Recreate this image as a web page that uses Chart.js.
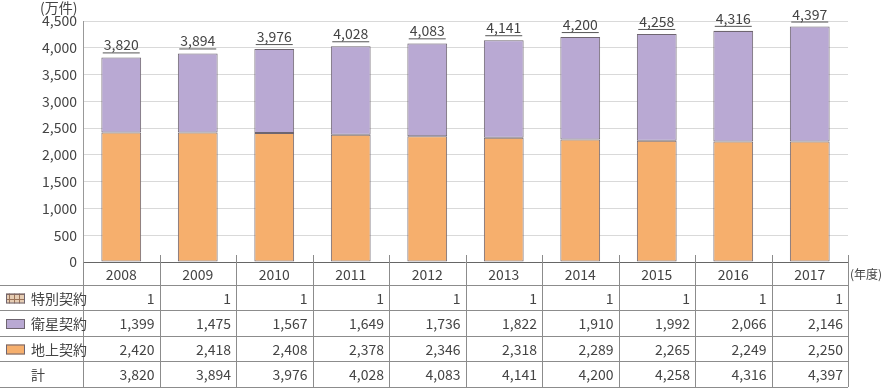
<!DOCTYPE html>
<html>
<head>
<meta charset="utf-8">
<script src="https://cdn.jsdelivr.net/npm/chart.js@4"></script>
<style>
  body { margin: 0; background: #fff; }
  #wrap { width: 883px; height: 391px; }
</style>
</head>
<body>
<div id="wrap"><canvas id="nhkChart" width="883" height="391"></canvas></div>
<script>
const years = ['2008', '2009', '2010', '2011', '2012', '2013', '2014', '2015', '2016', '2017'];
const tokubetsu = [1, 1, 1, 1, 1, 1, 1, 1, 1, 1];
const eisei = [1399, 1475, 1567, 1649, 1736, 1822, 1910, 1992, 2066, 2146];
const chijo = [2420, 2418, 2408, 2378, 2346, 2318, 2289, 2265, 2249, 2250];
const total = [3820, 3894, 3976, 4028, 4083, 4141, 4200, 4258, 4316, 4397];
const rowNames = ['特別契約', '衛星契約', '地上契約', '計'];

const FONT = '"Noto Sans CJK JP", "Noto Sans", sans-serif';
const TXT = '#444';
const LINE = '#8c8c8c';
const EDGE = '#6e6570';

// brown grid pattern for 特別契約
function makePattern() {
  const c = document.createElement('canvas');
  c.width = 5; c.height = 5;
  const g = c.getContext('2d');
  g.fillStyle = '#e6cdb4';
  g.fillRect(0, 0, 5, 5);
  g.fillStyle = '#9b7358';
  g.fillRect(4, 0, 1, 5);
  g.fillRect(0, 4, 5, 1);
  return g.createPattern(c, 'repeat');
}
const pattern = makePattern();
const fmt = v => v.toLocaleString('en-US');

const tablePlugin = {
  id: 'tablePlugin',
  afterDraw(chart) {
    const ctx = chart.ctx;
    const x = chart.scales.x;
    const area = chart.chartArea;
    const left = area.left, right = area.right, base = area.bottom;
    const colW = (right - left) / years.length;
    const rows = [285, 310, 336, 361, 387];
    ctx.save();

    // axis line
    ctx.strokeStyle = '#666';
    ctx.lineWidth = 1;
    ctx.beginPath();
    ctx.moveTo(left, base + 0.5);
    ctx.lineTo(right, base + 0.5);
    ctx.stroke();

    // vertical lines (with small ticks above axis)
    ctx.strokeStyle = LINE;
    for (let i = 0; i <= years.length; i++) {
      const px = Math.round(left + i * colW) + 0.5;
      ctx.beginPath();
      ctx.moveTo(px, i === 0 ? base : base - 7);
      ctx.lineTo(px, rows[rows.length - 1]);
      ctx.stroke();
    }
    // horizontal row lines
    rows.forEach(ry => {
      ctx.beginPath();
      ctx.moveTo(0, ry + 0.5);
      ctx.lineTo(right, ry + 0.5);
      ctx.stroke();
    });

    // year headers
    ctx.fillStyle = TXT;
    ctx.font = '14px ' + FONT;
    ctx.textAlign = 'center';
    ctx.textBaseline = 'middle';
    years.forEach((y, i) => {
      ctx.fillText(y, x.getPixelForValue(i), (base + rows[0]) / 2 + 1);
    });
    ctx.font = '12px ' + FONT;
    ctx.textAlign = 'left';
    ctx.fillText('(年度)', right + 2, (base + rows[0]) / 2 + 1);
    ctx.font = '14px ' + FONT;

    // row labels with swatches
    const swatches = [pattern, '#b9a9d3', '#f6af6d', null];
    rowNames.forEach((name, r) => {
      const cy = (rows[r] + rows[r + 1]) / 2 + 1;
      if (swatches[r]) {
        ctx.fillStyle = swatches[r];
        ctx.fillRect(6, cy - 5, 19, 10);
        ctx.strokeStyle = EDGE;
        ctx.strokeRect(6.5, cy - 4.5, 18, 9);
        ctx.fillStyle = TXT;
        ctx.textAlign = 'left';
        ctx.fillText(name, 31, cy);
      } else {
        ctx.fillStyle = TXT;
        ctx.textAlign = 'center';
        ctx.fillText(name, 38, cy);
      }
    });

    // values
    const series = [tokubetsu, eisei, chijo, total];
    ctx.textAlign = 'right';
    ctx.fillStyle = TXT;
    series.forEach((arr, r) => {
      const cy = (rows[r] + rows[r + 1]) / 2 + 1;
      arr.forEach((v, i) => {
        ctx.fillText(fmt(v), x.getPixelForValue(i) + colW / 2 - 5, cy);
      });
    });

    // total labels above bars (underlined)
    const yS = chart.scales.y;
    ctx.textAlign = 'center';
    ctx.textBaseline = 'alphabetic';
    total.forEach((v, i) => {
      const cx = x.getPixelForValue(i);
      const top = yS.getPixelForValue(v);
      const s = fmt(v);
      ctx.fillText(s, cx, top - 7);
      const w = ctx.measureText(s).width;
      ctx.beginPath();
      ctx.strokeStyle = '#555';
      ctx.moveTo(cx - w / 2 - 1, top - 4.5);
      ctx.lineTo(cx + w / 2 + 1, top - 4.5);
      ctx.stroke();
    });

    // unit
    ctx.textAlign = 'left';
    ctx.textBaseline = 'middle';
    ctx.fillText('(万件)', 40, 8);
    ctx.restore();
  }
};

new Chart(document.getElementById('nhkChart').getContext('2d'), {
  type: 'bar',
  data: {
    labels: years,
    datasets: [
      { label: '地上契約', data: chijo, backgroundColor: '#f6af6d', borderColor: EDGE, borderWidth: 1, borderSkipped: false },
      { label: '衛星契約', data: eisei, backgroundColor: '#b9a9d3', borderColor: EDGE, borderWidth: 1, borderSkipped: false },
      { label: '特別契約', data: tokubetsu, backgroundColor: pattern, borderColor: EDGE, borderWidth: 1, borderSkipped: false }
    ]
  },
  options: {
    responsive: false,
    animation: false,
    layout: { padding: { top: 21, right: 35, left: 0, bottom: 0 } },
    datasets: { bar: { categoryPercentage: 1, barPercentage: 0.52 } },
    plugins: { legend: { display: false }, tooltip: { enabled: false } },
    scales: {
      x: {
        stacked: true,
        ticks: { display: false },
        grid: { display: false },
        border: { display: false },
        afterFit(s) { s.height = 129; }
      },
      y: {
        stacked: true,
        min: 0,
        max: 4500,
        ticks: {
          stepSize: 500,
          color: TXT,
          padding: 6,
          font: { family: FONT, size: 14 },
          callback: v => fmt(v)
        },
        grid: { color: '#d9d9d9', drawTicks: false },
        border: { color: '#999' },
        afterFit(s) { s.width = 83; }
      }
    }
  },
  plugins: [tablePlugin]
});
</script>
</body>
</html>
